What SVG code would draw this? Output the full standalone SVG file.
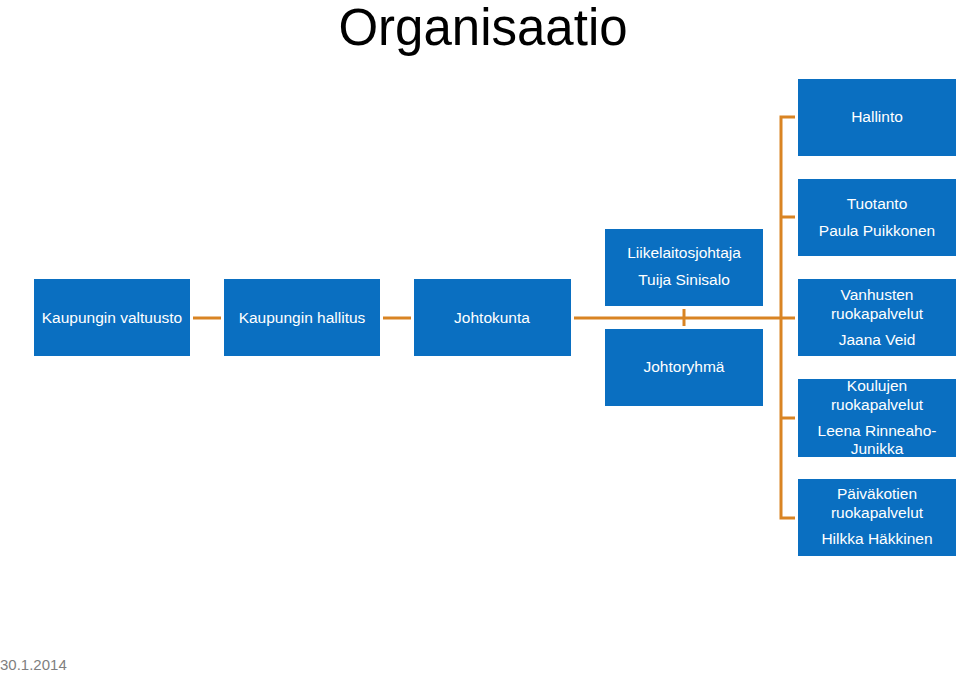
<svg xmlns="http://www.w3.org/2000/svg" width="959" height="673" viewBox="0 0 959 673">
<style>
.box{fill:#0A6FC1}
.t{font-family:"Liberation Sans",Arial,sans-serif;font-size:15.5px;fill:#fff;text-anchor:middle}
.ln{stroke:#D98423;stroke-width:3;fill:none}
</style>
<rect width="959" height="673" fill="#fff"/>
<text x="483" y="45" font-family="Liberation Sans,Arial,sans-serif" font-size="51" fill="#000" text-anchor="middle">Organisaatio</text>
<text x="0" y="670" font-family="Liberation Sans,Arial,sans-serif" font-size="15" fill="#7f7f7f">30.1.2014</text>
<g id="connectors">
<line class="ln" x1="193" y1="318" x2="221" y2="318"/>
<line class="ln" x1="383" y1="318" x2="411" y2="318"/>
<line class="ln" x1="574" y1="318" x2="781" y2="318"/>
<line class="ln" x1="684" y1="309" x2="684" y2="326"/>
<path class="ln" d="M795 117H781V518H795M781 217H795M781 318H795M781 418H795"/>
</g>
<g id="n1"><rect class="box" x="34" y="279" width="156" height="77"/><text class="t" x="112" y="323">Kaupungin valtuusto</text></g>
<g id="n2"><rect class="box" x="224" y="279" width="156" height="77"/><text class="t" x="302" y="323">Kaupungin hallitus</text></g>
<g id="n3"><rect class="box" x="414" y="279" width="157" height="77"/><text class="t" x="492" y="323">Johtokunta</text></g>
<g id="n4"><rect class="box" x="605" y="229" width="158" height="77"/><text class="t" x="684" y="258">Liikelaitosjohtaja</text><text class="t" x="684" y="285">Tuija Sinisalo</text></g>
<g id="n5"><rect class="box" x="605" y="329" width="158" height="77"/><text class="t" x="684" y="372">Johtoryhmä</text></g>
<g id="n6"><rect class="box" x="798" y="79" width="158" height="77"/><text class="t" x="877" y="122">Hallinto</text></g>
<g id="n7"><rect class="box" x="798" y="179" width="158" height="77"/><text class="t" x="877" y="209">Tuotanto</text><text class="t" x="877" y="236">Paula Puikkonen</text></g>
<g id="n8"><rect class="box" x="798" y="279" width="158" height="77"/><text class="t" x="877" y="300">Vanhusten</text><text class="t" x="877" y="319">ruokapalvelut</text><text class="t" x="877" y="345">Jaana Veid</text></g>
<g id="n9"><rect class="box" x="798" y="379" width="158" height="78"/><text class="t" x="877" y="391">Koulujen</text><text class="t" x="877" y="410">ruokapalvelut</text><text class="t" x="877" y="436">Leena Rinneaho-</text><text class="t" x="877" y="454">Junikka</text></g>
<g id="n10"><rect class="box" x="798" y="479" width="158" height="77"/><text class="t" x="877" y="499">Päiväkotien</text><text class="t" x="877" y="518">ruokapalvelut</text><text class="t" x="877" y="544">Hilkka Häkkinen</text></g>
</svg>
